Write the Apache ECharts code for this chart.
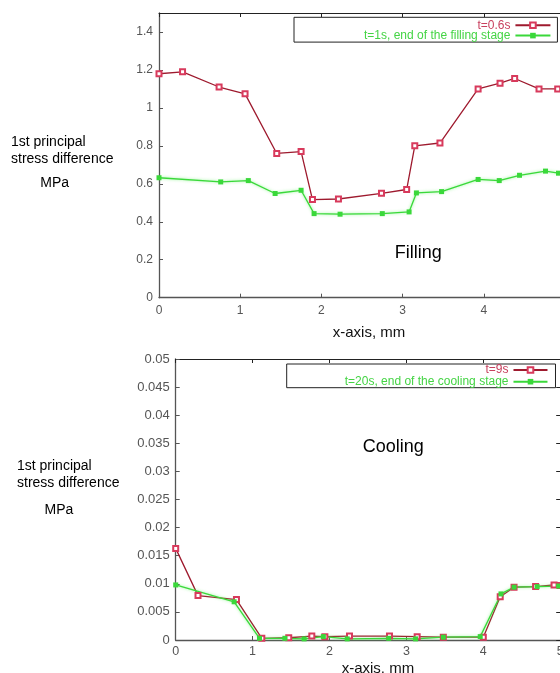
<!DOCTYPE html>
<html>
<head>
<meta charset="utf-8">
<script src="https://cdn.jsdelivr.net/npm/echarts@6/dist/echarts.min.js"></script>
<style>
html,body{margin:0;padding:0;background:#fff;}
#chart{width:560px;height:673px;}
</style>
</head>
<body>
<div id="chart"></div>
<script>
// ---- Data ----
const fillNameA = 't=0.6s';
const fillNameB = 't=1s, end of the filling stage';
const coolNameA = 't=9s';
const coolNameB = 't=20s, end of the cooling stage';

const fillX06 = [0, 0.29, 0.74, 1.06, 1.45, 1.75, 1.89, 2.21, 2.74, 3.05, 3.15, 3.46, 3.93, 4.20, 4.38, 4.68, 4.91];
const fillY06 = [1.18, 1.19, 1.11, 1.074, 0.76, 0.77, 0.517, 0.52, 0.55, 0.57, 0.80, 0.815, 1.10, 1.13, 1.155, 1.10, 1.10];

const fillX1 = [0, 0.76, 1.10, 1.43, 1.75, 1.91, 2.23, 2.75, 3.08, 3.17, 3.48, 3.93, 4.19, 4.44, 4.76, 4.92];
const fillY1 = [0.632, 0.61, 0.617, 0.549, 0.566, 0.443, 0.44, 0.443, 0.452, 0.552, 0.559, 0.623, 0.617, 0.645, 0.667, 0.656];

const coolX9 = [0, 0.29, 0.79, 1.12, 1.47, 1.77, 1.94, 2.26, 2.78, 3.14, 3.48, 4.0, 4.22, 4.40, 4.68, 4.92, 5.0];
const coolY9 = [0.0163, 0.0079, 0.0072, 0.0003, 0.0004, 0.0007, 0.0006, 0.0007, 0.0007, 0.0006, 0.0005, 0.0005, 0.0077, 0.0094, 0.0095, 0.0098, 0.0097];

const coolX20 = [0, 0.76, 1.09, 1.42, 1.67, 1.92, 2.23, 2.77, 3.12, 3.48, 3.96, 4.23, 4.40, 4.70, 4.98];
const coolY20 = [0.0098, 0.0068, 0.0003, 0.0003, 0.0002, 0.0006, 0.0002, 0.0003, 0.0002, 0.0005, 0.0006, 0.0082, 0.0094, 0.0095, 0.0096];

const xTicks = {min: 0, max: 5, interval: 1};
const fillYAxis = {min: 0, max: 1.5, interval: 0.2};
const coolYAxis = {min: 0, max: 0.05, interval: 0.005};

const yTitleLines = ['1st principal', 'stress difference', 'MPa'];
const fillLabel = 'Filling';
const coolLabel = 'Cooling';
const xName = 'x-axis, mm';

// ---- Styles ----
const FONT = 'Liberation Sans, Arial, sans-serif';
const RED_LINE = '#9e1a2e';
const RED_MARK = '#d83a5c';
const GREEN = '#3ad83a';

function pairs(xs, ys) { return xs.map((x, i) => [x, ys[i]]); }

function xAxesFor(grid, labelSize, margin, nameGap, namePad) {
  return [
    {
      gridIndex: grid, type: 'value', min: xTicks.min, max: xTicks.max, interval: xTicks.interval,
      position: 'bottom', name: xName, nameLocation: 'middle', nameGap: nameGap,
      nameTextStyle: {fontSize: 15, color: '#111', fontFamily: FONT, padding: namePad},
      axisLine: {onZero: false, lineStyle: {color: '#555', width: 1.3}},
      axisTick: {inside: true, length: 4, lineStyle: {color: '#555'}},
      axisLabel: {margin: margin, fontSize: labelSize, color: '#555', fontFamily: FONT},
      splitLine: {show: false}
    },
    {
      gridIndex: grid, type: 'value', min: xTicks.min, max: xTicks.max, interval: xTicks.interval,
      position: 'top',
      axisLine: {onZero: false, lineStyle: {color: '#222', width: 1}},
      axisTick: {inside: true, length: 4, lineStyle: {color: '#222'}},
      axisLabel: {show: false}, splitLine: {show: false}
    }
  ];
}

function yAxesFor(grid, sc, labelSize, margin) {
  return [
    {
      gridIndex: grid, type: 'value', min: sc.min, max: sc.max, interval: sc.interval,
      position: 'left',
      axisLine: {show: true, onZero: false, lineStyle: {color: '#555', width: 1.3}},
      axisTick: {show: true, inside: true, length: 4, lineStyle: {color: '#555'}},
      axisLabel: {margin: margin, fontSize: labelSize, color: '#555', fontFamily: FONT, showMaxLabel: sc === fillYAxis ? false : true},
      splitLine: {show: false}
    },
    {
      gridIndex: grid, type: 'value', min: sc.min, max: sc.max, interval: sc.interval,
      position: 'right',
      axisLine: {show: true, onZero: false, lineStyle: {color: '#222', width: 1}},
      axisTick: {show: true, inside: true, length: 4, lineStyle: {color: '#222'}},
      axisLabel: {show: false}, splitLine: {show: false}
    }
  ];
}

function redSeries(name, xi, yi, data) {
  return {
    name: name, type: 'line', xAxisIndex: xi, yAxisIndex: yi, data: data,
    symbol: 'emptyRect', symbolSize: 5,
    lineStyle: {color: RED_LINE, width: 1.3},
    itemStyle: {color: RED_MARK, borderWidth: 1.2},
    emphasis: {disabled: true}
  };
}
function greenSeries(name, xi, yi, data) {
  return {
    name: name, type: 'line', xAxisIndex: xi, yAxisIndex: yi, data: data,
    symbol: 'rect', symbolSize: 5,
    lineStyle: {color: GREEN, width: 1.3, shadowBlur: 3, shadowColor: 'rgba(90,240,90,0.7)'},
    itemStyle: {color: GREEN},
    emphasis: {disabled: true}
  };
}

function legendFor(items, colors, left, top, padding, fontSize, gap, iconW) {
  return {
    data: items.map((n, i) => ({name: n, textStyle: {color: colors[i]}})),
    orient: 'vertical', align: 'right', left: left, top: top,
    itemWidth: iconW, itemHeight: 7, itemGap: gap, padding: padding,
    borderColor: '#222', borderWidth: 1, selectedMode: false,
    textStyle: {fontSize: fontSize, fontFamily: FONT}
  };
}

function titleTexts(x0, ys, mpaX) {
  return yTitleLines.map((t, i) => ({
    type: 'text', x: i === 2 ? mpaX : x0, y: ys[i],
    style: {text: t, fill: '#000', font: '14px ' + FONT, align: i === 2 ? 'center' : 'left', verticalAlign: 'middle'}
  }));
}

const chart = echarts.init(document.getElementById('chart'), null, {renderer: 'canvas'});
chart.setOption({
  animation: false,
  backgroundColor: '#fff',
  grid: [
    {left: 159, top: 13, width: 406, height: 284.7, outerBoundsMode: 'none', containLabel: false},
    {left: 175.7, top: 359, width: 384.5, height: 281, outerBoundsMode: 'none', containLabel: false}
  ],
  xAxis: [].concat(xAxesFor(0, 12, 7, 28, [0, 0, 0, 14]), xAxesFor(1, 12.5, 5, 21, [0, 0, 0, 20])),
  yAxis: [].concat(yAxesFor(0, fillYAxis, 12, 6), yAxesFor(1, coolYAxis, 13, 6)),
  legend: [
    legendFor([fillNameA, fillNameB], ['#c8405e', '#44d444'], 294, 17.3, [2, 6, 0.5, 70], 12, -1.7, 35),
    legendFor([coolNameA, coolNameB], ['#c8405e', '#44d444'], 286.7, 364, [0, 7, 0, 58], 12, -0.3, 34)
  ],
  series: [
    redSeries(fillNameA, 0, 0, pairs(fillX06, fillY06)),
    greenSeries(fillNameB, 0, 0, pairs(fillX1, fillY1)),
    redSeries(coolNameA, 2, 2, pairs(coolX9, coolY9)),
    greenSeries(coolNameB, 2, 2, pairs(coolX20, coolY20))
  ],
  graphic: [].concat(
    titleTexts(11, [141.7, 159.3, 183.3], 54.7),
    titleTexts(17, [466, 482.7, 510], 59),
    [
      {type: 'text', x: 418.3, y: 252.7, style: {text: fillLabel, fill: '#000', font: '18px ' + FONT, align: 'center', verticalAlign: 'middle'}},
      {type: 'text', x: 393.3, y: 447.3, style: {text: coolLabel, fill: '#000', font: '18px ' + FONT, align: 'center', verticalAlign: 'middle'}}
    ]
  )
});
</script>
</body>
</html>
